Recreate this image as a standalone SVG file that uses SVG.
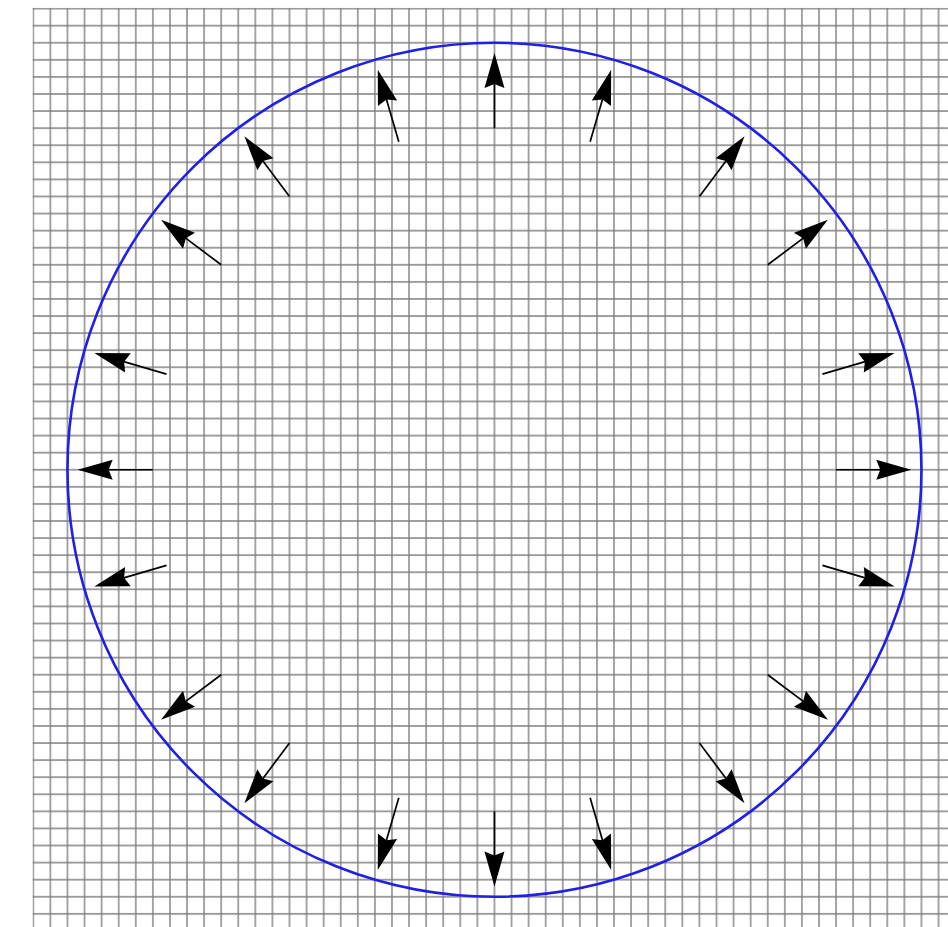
<svg xmlns="http://www.w3.org/2000/svg" width="948" height="927" viewBox="0 0 948 927">
  <defs>
    <pattern id="gridpat" patternUnits="userSpaceOnUse" x="24.76" y="0.06" width="17.08" height="17.08">
      <path d="M8.54,0 V17.08 M0,8.54 H17.08" fill="none" stroke="#7c7c7c" stroke-width="1.35"/>
    </pattern>
    <marker id="head" viewBox="-15 -10 35 20" refX="0" refY="0" markerWidth="35" markerHeight="20" markerUnits="userSpaceOnUse" orient="auto" overflow="visible">
      <path d="M20,0 L-15,-10 L-11,0 L-15,10 Z" fill="#000"/>
    </marker>
  </defs>
  <style>
    .arrow { stroke: #000; stroke-width: 1.7; fill: none; marker-end: url(#head); }
  </style>
  <rect x="0" y="0" width="948" height="927" fill="#fff"/>
  <g id="grid">
    <rect x="32.6" y="7.9" width="915.4" height="919.1" fill="url(#gridpat)"/>
  </g>
  <g id="circle">
    <circle cx="494.46" cy="469.76" r="427" fill="none" stroke="#1f1fe6" stroke-width="2.6"/>
  </g>
  <g id="connectors">
    <line class="arrow" x1="494.46" y1="128.16" x2="494.46" y2="72.96"/>
    <line class="arrow" x1="590.11" y1="141.82" x2="605.56" y2="88.83"/>
    <line class="arrow" x1="699.42" y1="196.48" x2="732.54" y2="152.32"/>
    <line class="arrow" x1="767.74" y1="264.80" x2="811.90" y2="231.68"/>
    <line class="arrow" x1="822.40" y1="374.11" x2="875.39" y2="358.66"/>
    <line class="arrow" x1="836.06" y1="469.76" x2="891.26" y2="469.76"/>
    <line class="arrow" x1="822.40" y1="565.41" x2="875.39" y2="580.86"/>
    <line class="arrow" x1="767.74" y1="674.72" x2="811.90" y2="707.84"/>
    <line class="arrow" x1="699.42" y1="743.04" x2="732.54" y2="787.20"/>
    <line class="arrow" x1="590.11" y1="797.70" x2="605.56" y2="850.69"/>
    <line class="arrow" x1="494.46" y1="811.36" x2="494.46" y2="866.56"/>
    <line class="arrow" x1="398.81" y1="797.70" x2="383.36" y2="850.69"/>
    <line class="arrow" x1="289.50" y1="743.04" x2="256.38" y2="787.20"/>
    <line class="arrow" x1="221.18" y1="674.72" x2="177.02" y2="707.84"/>
    <line class="arrow" x1="166.52" y1="565.41" x2="113.53" y2="580.86"/>
    <line class="arrow" x1="152.86" y1="469.76" x2="97.66" y2="469.76"/>
    <line class="arrow" x1="166.52" y1="374.11" x2="113.53" y2="358.66"/>
    <line class="arrow" x1="221.18" y1="264.80" x2="177.02" y2="231.68"/>
    <line class="arrow" x1="289.50" y1="196.48" x2="256.38" y2="152.32"/>
    <line class="arrow" x1="398.81" y1="141.82" x2="383.36" y2="88.83"/>
  </g>
</svg>
